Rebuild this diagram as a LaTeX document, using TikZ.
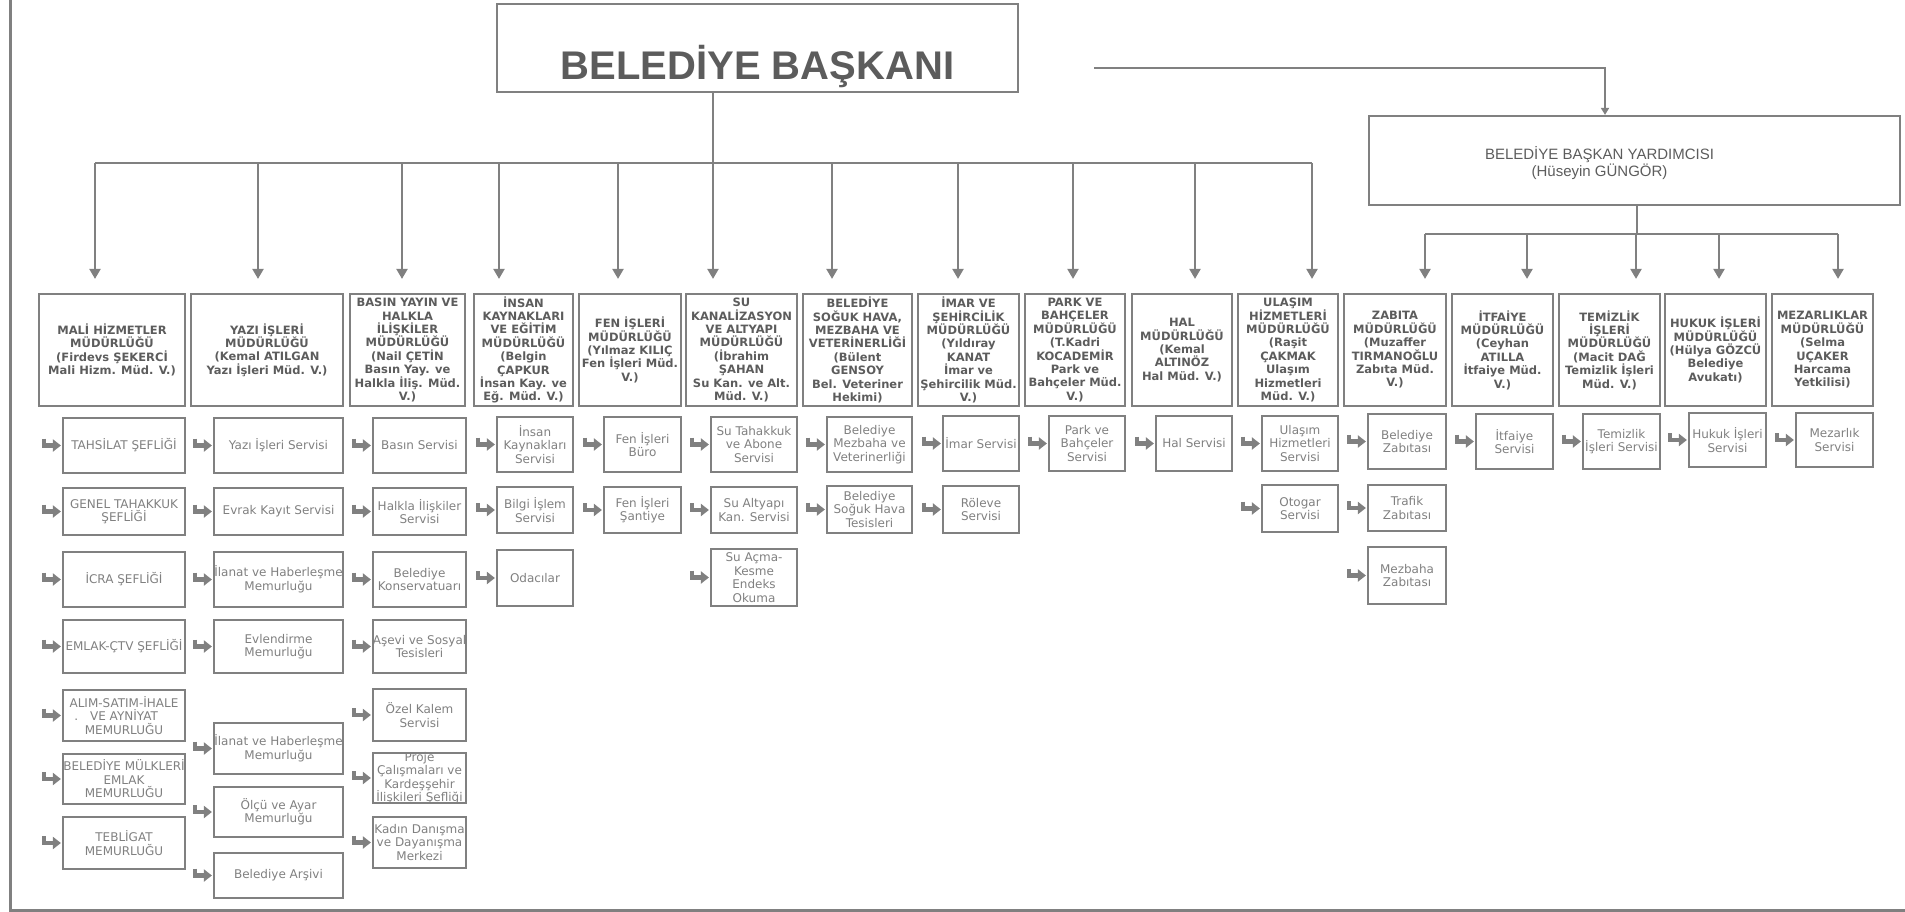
\documentclass[tikz,border=0pt]{standalone}
\usepackage{fontspec}
\setmainfont{DejaVu Sans}
\newfontfamily\headfont{Liberation Sans}
\usetikzlibrary{arrows.meta}

\definecolor{linegray}{gray}{0.5}
\definecolor{textdark}{gray}{0.36}
\definecolor{textlight}{gray}{0.5}

\tikzset{
  link/.style={draw=linegray, line width=2.2pt},
  chief/.style={link, inner sep=0pt},
  dept/.style={link, inner sep=0pt},
  unit/.style={link, inner sep=0pt},
  depttext/.style={align=center, inner sep=0pt, text=textdark, font=\bfseries\fontsize{11.5}{13.4}\selectfont},
  unittext/.style={align=center, inner sep=0pt, text=textlight, font=\fontsize{12}{13.5}\selectfont},
  drop/.style={link, -{Triangle[width=11pt,length=10pt]}, shorten >=14pt},
  hook/.style={draw=linegray, line width=4.5pt, -{Triangle[width=12pt,length=8pt]}},
}

% name, x1, x2, y1, y2, text
\newcommand{\deptbox}[6]{%
  \pgfmathsetmacro{\cellw}{#3-#2}\pgfmathsetmacro{\cellh}{#5-#4}%
  \node[dept, minimum width=\cellw pt, minimum height=\cellh pt,
    label={[depttext]center:{#6}}] (#1) at ({(#2+#3)/2},{(#4+#5)/2}) {};}
\newcommand{\unitbox}[6]{%
  \pgfmathsetmacro{\cellw}{#3-#2}\pgfmathsetmacro{\cellh}{#5-#4}%
  \node[unit, minimum width=\cellw pt, minimum height=\cellh pt,
    label={[unittext]center:{#6}}] (#1) at ({(#2+#3)/2},{(#4+#5)/2}) {};
  \draw[hook] ([shift={(-18pt,7pt)}]#1.west) |- ([xshift=-1pt]#1.west);}

\begin{document}
\begin{tikzpicture}[x=1pt, y=-1pt]
\useasboundingbox (0,0) rectangle (1905,912);
\draw[link, line width=3pt] (10,0) -- (10,910) -- (1905,910);

\node[chief, minimum width=521pt, minimum height=88pt,
  label={[yshift=-19pt, text=textdark, font=\headfont\bfseries\fontsize{40}{44}\selectfont]center:BELEDİYE BAŞKANI}] (pres) at (757.5,48) {};
\node[chief, minimum width=531pt, minimum height=89pt,
  label={[xshift=-35pt, yshift=-3pt, align=center, text=textdark, font=\headfont\fontsize{15}{17}\selectfont]center:{BELEDİYE BAŞKAN YARDIMCISI\\(Hüseyin GÜNGÖR)}}] (dep) at (1634.5,160.5) {};

\coordinate (hub) at (713,163);
\coordinate (side) at (1094,68);
\coordinate (hub2) at (1637,234);

\draw[link] (hub |- pres.south) -- (hub);
\draw[link] (95,163) -- (1312,163);
\draw[link, -{Triangle[width=8pt,length=7pt]}] (side) -| ([xshift=-29.5pt]dep.north);
\draw[link] (hub2 |- dep.south) -- (hub2);
\draw[link] (1425,234) -- (1838,234);

% mudurlukler
\deptbox{mali}{39}{185}{294}{406}{MALİ HİZMETLER\\MÜDÜRLÜĞÜ\\(Firdevs ŞEKERCİ\\Mali Hizm. Müd. V.)}
\deptbox{yazi}{191}{343}{294}{406}{YAZI İŞLERİ\\MÜDÜRLÜĞÜ\\(Kemal ATILGAN\\Yazı İşleri Müd. V.)}
\deptbox{basin}{350}{465}{294}{406}{BASIN YAYIN VE\\HALKLA\\İLİŞKİLER\\MÜDÜRLÜĞÜ\\(Nail ÇETİN\\Basın Yay. ve\\Halkla İliş. Müd.\\V.)}
\deptbox{insan}{474}{573}{294}{406}{İNSAN\\KAYNAKLARI\\VE EĞİTİM\\MÜDÜRLÜĞÜ\\(Belgin\\ÇAPKUR\\İnsan Kay. ve\\Eğ. Müd. V.)}
\deptbox{fen}{579}{681}{294}{406}{FEN İŞLERİ\\MÜDÜRLÜĞÜ\\(Yılmaz KILIÇ\\Fen İşleri Müd.\\V.)}
\deptbox{su}{686}{797}{294}{406}{SU\\KANALİZASYON\\VE ALTYAPI\\MÜDÜRLÜĞÜ\\(İbrahim\\ŞAHAN\\Su Kan. ve Alt.\\Müd. V.)}
\deptbox{bel}{803}{912}{294}{406}{BELEDİYE\\SOĞUK HAVA,\\MEZBAHA VE\\VETERİNERLİĞİ\\(Bülent\\GENSOY\\Bel. Veteriner\\Hekimi)}
\deptbox{imar}{918}{1019}{294}{406}{İMAR VE\\ŞEHİRCİLİK\\MÜDÜRLÜĞÜ\\(Yıldıray\\KANAT\\İmar ve\\Şehircilik Müd.\\V.)}
\deptbox{park}{1025}{1125}{294}{406}{PARK VE\\BAHÇELER\\MÜDÜRLÜĞÜ\\(T.Kadri\\KOCADEMİR\\Park ve\\Bahçeler Müd.\\V.)}
\deptbox{hal}{1132}{1232}{294}{406}{HAL\\MÜDÜRLÜĞÜ\\(Kemal\\ALTINÖZ\\Hal Müd. V.)}
\deptbox{ulasim}{1238}{1338}{294}{406}{ULAŞIM\\HİZMETLERİ\\MÜDÜRLÜĞÜ\\(Raşit\\ÇAKMAK\\Ulaşım\\Hizmetleri\\Müd. V.)}
\deptbox{zabita}{1344}{1446}{294}{406}{ZABITA\\MÜDÜRLÜĞÜ\\(Muzaffer\\TIRMANOĞLU\\Zabıta Müd.\\V.)}
\deptbox{itfaiye}{1452}{1553}{294}{406}{İTFAİYE\\MÜDÜRLÜĞÜ\\(Ceyhan\\ATILLA\\İtfaiye Müd.\\V.)}
\deptbox{temizlik}{1559}{1660}{294}{406}{TEMİZLİK\\İŞLERİ\\MÜDÜRLÜĞÜ\\(Macit DAĞ\\Temizlik İşleri\\Müd. V.)}
\deptbox{hukuk}{1665}{1766}{294}{406}{HUKUK İŞLERİ\\MÜDÜRLÜĞÜ\\(Hülya GÖZCÜ\\Belediye\\Avukatı)}
\deptbox{mezar}{1772}{1873}{294}{406}{MEZARLIKLAR\\MÜDÜRLÜĞÜ\\(Selma\\UÇAKER\\Harcama\\Yetkilisi)}

\foreach \x/\n in {95/mali, 258/yazi, 402/basin, 499/insan, 618/fen, 713/su, 832/bel, 958/imar, 1073/park, 1195/hal, 1312/ulasim}
  \draw[drop] (\x,163) -- (\x,0 |- \n.north);
\foreach \x/\n in {1425/zabita, 1527/itfaiye, 1636/temizlik, 1719/hukuk, 1838/mezar}
  \draw[drop] (\x,234) -- (\x,0 |- \n.north);

% servisler
\unitbox{mali1}{63}{185}{418}{473}{TAHSİLAT ŞEFLİĞİ}
\unitbox{mali2}{63}{185}{488}{535}{GENEL TAHAKKUK\\ŞEFLİĞİ}
\unitbox{mali3}{63}{185}{552}{607}{İCRA ŞEFLİĞİ}
\unitbox{mali4}{63}{185}{620}{673}{EMLAK-ÇTV ŞEFLİĞİ}
\unitbox{mali5}{63}{185}{690}{741}{ALIM-SATIM-İHALE\\\llap{.\hspace{12pt}}VE AYNİYAT\\MEMURLUĞU}
\unitbox{mali6}{63}{185}{754}{804}{BELEDİYE MÜLKLERİ\\EMLAK\\MEMURLUĞU}
\unitbox{mali7}{63}{185}{817}{869}{TEBLİGAT\\MEMURLUĞU}

\unitbox{yazi1}{214}{343}{418}{473}{Yazı İşleri Servisi}
\unitbox{yazi2}{214}{343}{488}{535}{Evrak Kayıt Servisi}
\unitbox{yazi3}{214}{343}{552}{607}{İlanat ve Haberleşme\\Memurluğu}
\unitbox{yazi4}{214}{343}{620}{673}{Evlendirme\\Memurluğu}
\unitbox{yazi5}{214}{343}{723}{774}{İlanat ve Haberleşme\\Memurluğu}
\unitbox{yazi6}{214}{343}{787}{837}{Ölçü ve Ayar\\Memurluğu}
\unitbox{yazi7}{214}{343}{853}{898}{Belediye Arşivi}

\unitbox{basin1}{373}{466}{418}{473}{Basın Servisi}
\unitbox{basin2}{373}{466}{488}{535}{Halkla İlişkiler\\Servisi}
\unitbox{basin3}{373}{466}{552}{607}{Belediye\\Konservatuarı}
\unitbox{basin4}{373}{466}{620}{673}{Aşevi ve Sosyal\\Tesisleri}
\unitbox{basin5}{373}{466}{689}{741}{Özel Kalem\\Servisi}
\unitbox{basin6}{373}{466}{753}{803}{Proje\\Çalışmaları ve\\Kardeşşehir\\İlişkileri Şefliği}
\unitbox{basin7}{373}{466}{817}{868}{Kadın Danışma\\ve Dayanışma\\Merkezi}

\unitbox{insan1}{497}{573}{417}{472}{İnsan\\Kaynakları\\Servisi}
\unitbox{insan2}{497}{573}{487}{533}{Bilgi İşlem\\Servisi}
\unitbox{insan3}{497}{573}{550}{606}{Odacılar}

\unitbox{fen1}{604}{681}{417}{472}{Fen İşleri\\Büro}
\unitbox{fen2}{604}{681}{487}{533}{Fen İşleri\\Şantiye}

\unitbox{su1}{711}{797}{417}{472}{Su Tahakkuk\\ve Abone\\Servisi}
\unitbox{su2}{711}{797}{487}{533}{Su Altyapı\\Kan. Servisi}
\unitbox{su3}{711}{797}{549}{606}{Su Açma-\\Kesme\\Endeks\\Okuma}

\unitbox{bel1}{827}{912}{417}{472}{Belediye\\Mezbaha ve\\Veterinerliği}
\unitbox{bel2}{827}{912}{486}{533}{Belediye\\Soğuk Hava\\Tesisleri}

\unitbox{imar1}{943}{1019}{416}{471}{İmar Servisi}
\unitbox{imar2}{943}{1019}{486}{533}{Röleve\\Servisi}

\unitbox{park1}{1049}{1125}{416}{471}{Park ve\\Bahçeler\\Servisi}
\unitbox{hal1}{1156}{1232}{416}{471}{Hal Servisi}

\unitbox{ulasim1}{1262}{1338}{416}{471}{Ulaşım\\Hizmetleri\\Servisi}
\unitbox{ulasim2}{1262}{1338}{485}{532}{Otogar\\Servisi}

\unitbox{zabita1}{1368}{1446}{414}{469}{Belediye\\Zabıtası}
\unitbox{zabita2}{1368}{1446}{485}{531}{Trafik\\Zabıtası}
\unitbox{zabita3}{1368}{1446}{547}{604}{Mezbaha\\Zabıtası}

\unitbox{itfaiye1}{1476}{1553}{414}{469}{İtfaiye\\Servisi}
\unitbox{temizlik1}{1583}{1660}{414}{469}{Temizlik\\İşleri Servisi}
\unitbox{hukuk1}{1689}{1766}{413}{467}{Hukuk İşleri\\Servisi}
\unitbox{mezar1}{1796}{1873}{413}{467}{Mezarlık\\Servisi}
\end{tikzpicture}
\end{document}
